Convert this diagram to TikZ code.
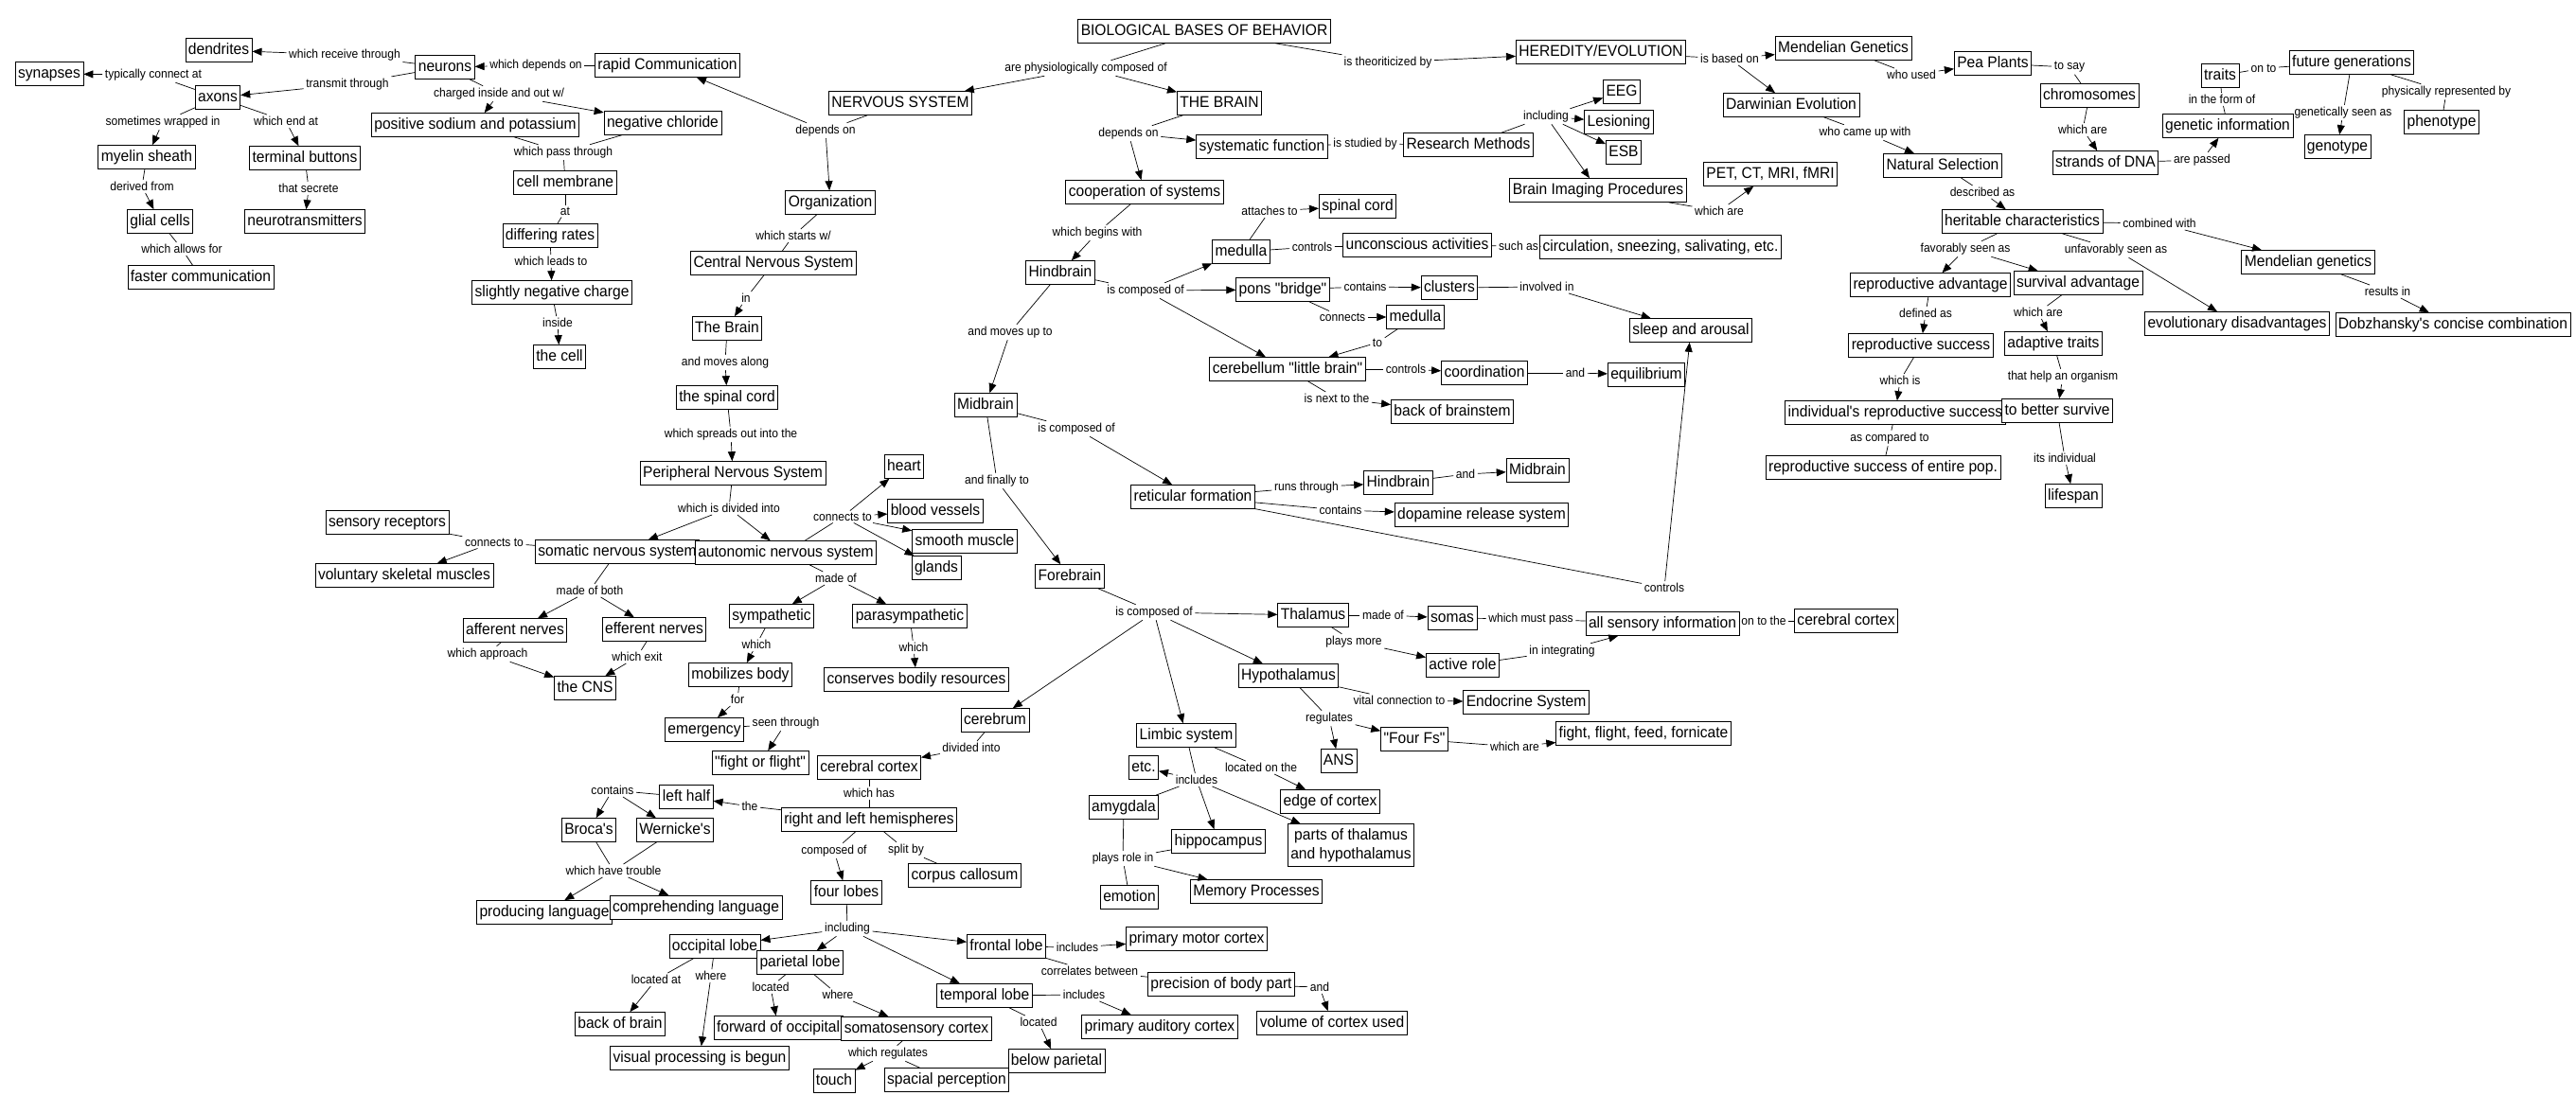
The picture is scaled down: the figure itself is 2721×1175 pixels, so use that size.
\documentclass[tikz,border=0pt]{standalone}
\usepackage{fontspec}
\newfontfamily\mapfont{Liberation Sans}[FakeStretch=0.945]
\newfontfamily\labfont{Liberation Sans}[FakeStretch=0.93]
\usetikzlibrary{arrows.meta}
\tikzset{
 cbase/.style={draw, line width=0.8pt, fill=white, font=\mapfont\fontsize{16.5}{20}\selectfont, inner xsep=3pt, inner ysep=4.5pt},
 cpt/.style={cbase, text height=12.3pt, text depth=3.5pt},
 lbl/.style={font=\labfont\fontsize{13}{15}\selectfont, inner xsep=2.5pt, inner ysep=2pt},
 ln/.style={line width=0.7pt},
 arr/.style={ln, -{Triangle[length=10pt,width=8pt]}},
}
\newcommand{\lnk}[2]{\draw[ln] (#1) -- (#2);}
\newcommand{\arw}[2]{\draw[arr] (#1) -- (#2);}
\begin{document}
\begin{tikzpicture}[x=1pt,y=-1pt]
\useasboundingbox (0,0) rectangle (2721,1175);
\fill[white] (0,0) rectangle (2721,1175);
% ---------------- concepts
\node[cpt] (c_bbb) at (1272,33) {BIOLOGICAL BASES OF BEHAVIOR};
\node[cpt] (c_ns) at (951,109) {NERVOUS SYSTEM};
\node[cpt] (c_tb) at (1288,109) {THE BRAIN};
\node[cpt] (c_her) at (1691,55) {HEREDITY/EVOLUTION};
\node[cpt] (c_rapid) at (705,69) {rapid Communication};
\node[cpt] (c_neur) at (470,71) {neurons};
\node[cpt] (c_dend) at (231,53) {dendrites};
\node[cpt] (c_syn) at (52,78) {synapses};
\node[cpt] (c_axon) at (230,103) {axons};
\node[cpt] (c_pos) at (502,132) {positive sodium and potassium};
\node[cpt] (c_negc) at (700,130) {negative chloride};
\node[cpt] (c_myel) at (155,166) {myelin sheath};
\node[cpt] (c_term) at (322,167) {terminal buttons};
\node[cpt] (c_glia) at (169,234) {glial cells};
\node[cpt] (c_neurot) at (322,234) {neurotransmitters};
\node[cpt] (c_fast) at (212,293) {faster communication};
\node[cpt] (c_memb) at (597,193) {cell membrane};
\node[cpt] (c_diff) at (581,249) {differing rates};
\node[cpt] (c_slneg) at (583,309) {slightly negative charge};
\node[cpt] (c_cell) at (591,377) {the cell};
\node[cpt] (c_org) at (877,214) {Organization};
\node[cpt] (c_cns) at (817,278) {Central Nervous System};
\node[cpt] (c_brain) at (768,347) {The Brain};
\node[cpt] (c_spc) at (768,420) {the spinal cord};
\node[cpt] (c_pns) at (774,500) {Peripheral Nervous System};
\node[cpt] (c_som) at (652,583) {somatic nervous system};
\node[cpt] (c_aut) at (830,584) {autonomic nervous system};
\node[cpt] (c_sens) at (409,552) {sensory receptors};
\node[cpt] (c_vol) at (427,608) {voluntary skeletal muscles};
\node[cpt] (c_aff) at (544,666) {afferent nerves};
\node[cpt] (c_eff) at (691,665) {efferent nerves};
\node[cpt] (c_thecns) at (618,727) {the CNS};
\node[cpt] (c_heart) at (955,493) {heart};
\node[cpt] (c_blood) at (988,540) {blood vessels};
\node[cpt] (c_smooth) at (1019,572) {smooth muscle};
\node[cpt] (c_glands) at (989,600) {glands};
\node[cpt] (c_symp) at (815,651) {sympathetic};
\node[cpt] (c_para) at (961,651) {parasympathetic};
\node[cpt] (c_mob) at (782,713) {mobilizes body};
\node[cpt] (c_cons) at (968,718) {conserves bodily resources};
\node[cpt] (c_emerg) at (744,771) {emergency};
\node[cpt] (c_fof) at (803,806) {"fight or flight"};
\node[cpt] (c_sysf) at (1333,155) {systematic function};
\node[cpt] (c_coop) at (1209,203) {cooperation of systems};
\node[cpt] (c_resm) at (1551,153) {Research Methods};
\node[cpt] (c_eeg) at (1713,97) {EEG};
\node[cpt] (c_les) at (1710,129) {Lesioning};
\node[cpt] (c_esb) at (1715,161) {ESB};
\node[cpt] (c_bip) at (1688,201) {Brain Imaging Procedures};
\node[cpt] (c_pet) at (1870,184) {PET, CT, MRI, fMRI};
\node[cpt] (c_hind) at (1120,288) {Hindbrain};
\node[cpt] (c_med) at (1311,266) {medulla};
\node[cpt] (c_spinal) at (1434,218) {spinal cord};
\node[cpt] (c_unc) at (1497,259) {unconscious activities};
\node[cpt] (c_circ) at (1754,261) {circulation, sneezing, salivating, etc.};
\node[cpt] (c_pons) at (1355,306) {pons "bridge"};
\node[cpt] (c_clus) at (1531,304) {clusters};
\node[cpt] (c_med2) at (1495,335) {medulla};
\node[cpt] (c_sleep) at (1786,349) {sleep and arousal};
\node[cpt] (c_cereb) at (1360,390) {cerebellum "little brain"};
\node[cpt] (c_coord) at (1568,394) {coordination};
\node[cpt] (c_equi) at (1739,396) {equilibrium};
\node[cpt] (c_back) at (1534,435) {back of brainstem};
\node[cpt] (c_mid) at (1041,428) {Midbrain};
\node[cpt] (c_ret) at (1260,525) {reticular formation};
\node[cpt] (c_hind2) at (1477,510) {Hindbrain};
\node[cpt] (c_mid2) at (1624,497) {Midbrain};
\node[cpt] (c_dopa) at (1565,544) {dopamine release system};
\node[cpt] (c_fore) at (1130,609) {Forebrain};
\node[cpt] (c_thal) at (1387,650) {Thalamus};
\node[cpt] (c_somas) at (1534,653) {somas};
\node[cpt] (c_allsens) at (1756,659) {all sensory information};
\node[cpt] (c_cortex2) at (1950,656) {cerebral cortex};
\node[cpt] (c_active) at (1545,703) {active role};
\node[cpt] (c_hypo) at (1361,714) {Hypothalamus};
\node[cpt] (c_endo) at (1612,742) {Endocrine System};
\node[cpt] (c_fourf) at (1494,781) {"Four Fs"};
\node[cpt] (c_ffff) at (1736,775) {fight, flight, feed, fornicate};
\node[cpt] (c_ansb) at (1414,804) {ANS};
\node[cpt] (c_cerebrum) at (1051,761) {cerebrum};
\node[cpt] (c_limbic) at (1253,777) {Limbic system};
\node[cpt] (c_cortex) at (918,811) {cerebral cortex};
\node[cpt] (c_hemi) at (918,866) {right and left hemispheres};
\node[cpt] (c_left) at (725,842) {left half};
\node[cpt] (c_broca) at (622,877) {Broca's};
\node[cpt] (c_wern) at (713,877) {Wernicke's};
\node[cpt] (c_prod) at (575,964) {producing language};
\node[cpt] (c_comp) at (735,959) {comprehending language};
\node[cpt] (c_corpus) at (1019,925) {corpus callosum};
\node[cpt] (c_four) at (894,943) {four lobes};
\node[cpt] (c_occ) at (755,1000) {occipital lobe};
\node[cpt] (c_par) at (845,1017) {parietal lobe};
\node[cpt] (c_front) at (1063,1000) {frontal lobe};
\node[cpt] (c_temp) at (1040,1052) {temporal lobe};
\node[cpt] (c_motor) at (1264,992) {primary motor cortex};
\node[cpt] (c_prec) at (1290,1040) {precision of body part};
\node[cpt] (c_volc) at (1407,1081) {volume of cortex used};
\node[cpt] (c_aud) at (1225,1085) {primary auditory cortex};
\node[cpt] (c_below) at (1116,1121) {below parietal};
\node[cpt] (c_backb) at (655,1082) {back of brain};
\node[cpt] (c_fwd) at (822,1086) {forward of occipital};
\node[cpt] (c_soma) at (968,1087) {somatosensory cortex};
\node[cpt] (c_vis) at (739,1118) {visual processing is begun};
\node[cpt] (c_touch) at (881,1142) {touch};
\node[cpt] (c_spac) at (1000,1141) {spacial perception};
\node[cpt] (c_etc) at (1208,811) {etc.};
\node[cpt] (c_edge) at (1405,847) {edge of cortex};
\node[cbase, align=center] (c_parts) at (1427,893) {parts of thalamus\\and hypothalamus};
\node[cpt] (c_amyg) at (1187,853) {amygdala};
\node[cpt] (c_hippo) at (1287,889) {hippocampus};
\node[cpt] (c_emot) at (1193,948) {emotion};
\node[cpt] (c_mem) at (1327,942) {Memory Processes};
\node[cpt] (c_mendel) at (1947,51) {Mendelian Genetics};
\node[cpt] (c_darwin) at (1892,111) {Darwinian Evolution};
\node[cpt] (c_natsel) at (2052,175) {Natural Selection};
\node[cpt] (c_pea) at (2105,67) {Pea Plants};
\node[cpt] (c_chrom) at (2207,101) {chromosomes};
\node[cpt] (c_dna) at (2224,172) {strands of DNA};
\node[cpt] (c_gen) at (2353,133) {genetic information};
\node[cpt] (c_traits) at (2345,80) {traits};
\node[cpt] (c_future) at (2484,66) {future generations};
\node[cpt] (c_genot) at (2469,155) {genotype};
\node[cpt] (c_phen) at (2579,129) {phenotype};
\node[cpt] (c_herit) at (2136,234) {heritable characteristics};
\node[cpt] (c_repadv) at (2039,301) {reproductive advantage};
\node[cpt] (c_surv) at (2195,299) {survival advantage};
\node[cpt] (c_mendel2) at (2438,277) {Mendelian genetics};
\node[cpt] (c_evol) at (2363,342) {evolutionary disadvantages};
\node[cpt] (c_dob) at (2591,343) {Dobzhansky's concise combination};
\node[cpt] (c_repsucc) at (2029,365) {reproductive success};
\node[cpt] (c_adapt) at (2169,363) {adaptive traits};
\node[cpt] (c_indiv) at (2002,436) {individual's reproductive success};
\node[cpt] (c_better) at (2173,434) {to better survive};
\node[cpt] (c_entire) at (1989,494) {reproductive success of entire pop.};
\node[cpt] (c_life) at (2190,524) {lifespan};
% ---------------- linking phrases
\node[lbl] (l_recv) at (364,58) {which receive through};
\node[lbl] (l_conn) at (162,79) {typically connect at};
\node[lbl] (l_trans) at (367,89) {transmit through};
\node[lbl] (l_dep1) at (566,69) {which depends on};
\node[lbl] (l_charg) at (527,99) {charged inside and out w/};
\node[lbl] (l_wrap) at (172,129) {sometimes wrapped in};
\node[lbl] (l_end) at (302,128) {which end at};
\node[lbl] (l_deriv) at (150,197) {derived from};
\node[lbl] (l_secr) at (326,199) {that secrete};
\node[lbl] (l_allow) at (192,263) {which allows for};
\node[lbl] (l_pass) at (595,161) {which pass through};
\node[lbl] (l_at) at (597,223) {at};
\node[lbl] (l_leads) at (582,276) {which leads to};
\node[lbl] (l_inside) at (589,341) {inside};
\node[lbl] (l_phys) at (1147,72) {are physiologically composed of};
\node[lbl] (l_depns) at (872,138) {depends on};
\node[lbl] (l_starts) at (838,249) {which starts w/};
\node[lbl] (l_in) at (788,315) {in};
\node[lbl] (l_along) at (766,383) {and moves along};
\node[lbl] (l_spreads) at (772,459) {which spreads out into the};
\node[lbl] (l_divided) at (770,537) {which is divided into};
\node[lbl] (l_conn2) at (522,573) {connects to};
\node[lbl] (l_both) at (623,624) {made of both};
\node[lbl] (l_appr) at (515,691) {which approach};
\node[lbl] (l_exit) at (673,694) {which exit};
\node[lbl] (l_conn3) at (890,546) {connects to};
\node[lbl] (l_madeof) at (883,611) {made of};
\node[lbl] (l_which1) at (799,681) {which};
\node[lbl] (l_which2) at (965,684) {which};
\node[lbl] (l_for) at (779,739) {for};
\node[lbl] (l_seen) at (830,764) {seen through};
\node[lbl] (l_deptb) at (1192,141) {depends on};
\node[lbl] (l_begins) at (1159,246) {which begins with};
\node[lbl] (l_studied) at (1442,152) {is studied by};
\node[lbl] (l_incl) at (1633,123) {including};
\node[lbl] (l_whichare1) at (1816,223) {which are};
\node[lbl] (l_compH) at (1210,307) {is composed of};
\node[lbl] (l_attach) at (1341,223) {attaches to};
\node[lbl] (l_ctrl1) at (1386,261) {controls};
\node[lbl] (l_such) at (1604,260) {such as};
\node[lbl] (l_cont1) at (1442,303) {contains};
\node[lbl] (l_connects) at (1418,335) {connects};
\node[lbl] (l_to) at (1455,362) {to};
\node[lbl] (l_invol) at (1634,303) {involved in};
\node[lbl] (l_ctrl2) at (1485,390) {controls};
\node[lbl] (l_and1) at (1664,394) {and};
\node[lbl] (l_next) at (1412,421) {is next to the};
\node[lbl] (l_moves) at (1067,351) {and moves up to};
\node[lbl] (l_compM) at (1137,453) {is composed of};
\node[lbl] (l_final) at (1053,508) {and finally to};
\node[lbl] (l_runs) at (1380,515) {runs through};
\node[lbl] (l_and2) at (1548,501) {and};
\node[lbl] (l_cont2) at (1416,539) {contains};
\node[lbl] (l_ctrl3) at (1758,621) {controls};
\node[lbl] (l_compF) at (1219,647) {is composed of};
\node[lbl] (l_made2) at (1461,650) {made of};
\node[lbl] (l_must) at (1617,654) {which must pass};
\node[lbl] (l_onto) at (1863,656) {on to the};
\node[lbl] (l_plays) at (1430,678) {plays more};
\node[lbl] (l_integ) at (1650,688) {in integrating};
\node[lbl] (l_vital) at (1478,740) {vital connection to};
\node[lbl] (l_regul) at (1404,759) {regulates};
\node[lbl] (l_whichare2) at (1600,789) {which are};
\node[lbl] (l_divinto) at (1026,790) {divided into};
\node[lbl] (l_has) at (918,838) {which has};
\node[lbl] (l_the) at (792,852) {the};
\node[lbl] (l_cont3) at (647,835) {contains};
\node[lbl] (l_trouble) at (648,920) {which have trouble};
\node[lbl] (l_compof) at (881,899) {composed of};
\node[lbl] (l_split) at (957,898) {split by};
\node[lbl] (l_including) at (895,981) {including};
\node[lbl] (l_incl2) at (1138,1001) {includes};
\node[lbl] (l_corr) at (1151,1026) {correlates between};
\node[lbl] (l_and3) at (1394,1043) {and};
\node[lbl] (l_incl3) at (1145,1051) {includes};
\node[lbl] (l_loc1) at (1097,1080) {located};
\node[lbl] (l_locat) at (693,1035) {located at};
\node[lbl] (l_where1) at (751,1031) {where};
\node[lbl] (l_loc2) at (814,1043) {located};
\node[lbl] (l_where2) at (885,1051) {where};
\node[lbl] (l_regs) at (938,1113) {which regulates};
\node[lbl] (l_incl4) at (1264,824) {includes};
\node[lbl] (l_locon) at (1332,811) {located on the};
\node[lbl] (l_plays2) at (1186,907) {plays role in};
\node[lbl] (l_theor) at (1466,66) {is theoriticized by};
\node[lbl] (l_based) at (1827,62) {is based on};
\node[lbl] (l_used) at (2019,79) {who used};
\node[lbl] (l_came) at (1970,140) {who came up with};
\node[lbl] (l_say) at (2186,71) {to say};
\node[lbl] (l_whichare3) at (2200,137) {which are};
\node[lbl] (l_passed) at (2326,169) {are passed};
\node[lbl] (l_form) at (2347,105) {in the form of};
\node[lbl] (l_onto2) at (2391,72) {on to};
\node[lbl] (l_genet) at (2475,119) {genetically seen as};
\node[lbl] (l_physr) at (2584,97) {physically represented by};
\node[lbl] (l_descr) at (2094,203) {described as};
\node[lbl] (l_fav) at (2076,263) {favorably seen as};
\node[lbl] (l_unfav) at (2235,264) {unfavorably seen as};
\node[lbl] (l_comb) at (2281,236) {combined with};
\node[lbl] (l_results) at (2522,308) {results in};
\node[lbl] (l_defined) at (2034,331) {defined as};
\node[lbl] (l_whichare4) at (2153,330) {which are};
\node[lbl] (l_whichis) at (2007,402) {which is};
\node[lbl] (l_help) at (2179,398) {that help an organism};
\node[lbl] (l_compared) at (1996,463) {as compared to};
\node[lbl] (l_indiv) at (2181,484) {its individual};
% ---------------- connectors
\lnk{c_bbb}{l_phys} \arw{l_phys}{c_ns} \arw{l_phys}{c_tb}
\lnk{c_bbb}{l_theor} \arw{l_theor}{c_her}
\lnk{c_her}{l_based} \arw{l_based}{c_mendel} \arw{l_based}{c_darwin}
\lnk{c_mendel}{l_used} \arw{l_used}{c_pea}
\lnk{c_pea}{l_say} \lnk{l_say}{c_chrom}
\lnk{c_chrom}{l_whichare3} \arw{l_whichare3}{c_dna}
\lnk{c_dna}{l_passed} \arw{l_passed}{c_gen}
\lnk{c_gen}{l_form} \lnk{l_form}{c_traits}
\lnk{c_traits}{l_onto2} \lnk{l_onto2}{c_future}
\lnk{c_future}{l_genet} \arw{l_genet}{c_genot}
\lnk{c_future}{l_physr} \lnk{l_physr}{c_phen}
\lnk{c_darwin}{l_came} \arw{l_came}{c_natsel}
\lnk{c_natsel}{l_descr} \arw{l_descr}{c_herit}
\lnk{c_herit}{l_fav} \arw{l_fav}{c_repadv} \arw{l_fav}{c_surv}
\lnk{c_herit}{l_unfav} \arw{l_unfav}{c_evol}
\lnk{c_herit}{l_comb} \arw{l_comb}{c_mendel2}
\lnk{c_mendel2}{l_results} \arw{l_results}{c_dob}
\lnk{c_repadv}{l_defined} \arw{l_defined}{c_repsucc}
\lnk{c_repsucc}{l_whichis} \arw{l_whichis}{c_indiv}
\lnk{c_indiv}{l_compared} \lnk{l_compared}{c_entire}
\lnk{c_surv}{l_whichare4} \arw{l_whichare4}{c_adapt}
\lnk{c_adapt}{l_help} \arw{l_help}{c_better}
\lnk{c_better}{l_indiv} \arw{l_indiv}{c_life}
\lnk{c_ns}{l_depns} \arw{l_depns}{c_rapid} \arw{l_depns}{c_org}
\lnk{c_rapid}{l_dep1} \arw{l_dep1}{c_neur}
\lnk{c_neur}{l_recv} \arw{l_recv}{c_dend}
\lnk{c_neur}{l_trans} \arw{l_trans}{c_axon}
\lnk{c_axon}{l_conn} \arw{l_conn}{c_syn}
\lnk{c_axon}{l_wrap} \arw{l_wrap}{c_myel}
\lnk{c_axon}{l_end} \arw{l_end}{c_term}
\lnk{c_myel}{l_deriv} \arw{l_deriv}{c_glia}
\lnk{c_glia}{l_allow} \lnk{l_allow}{c_fast}
\lnk{c_term}{l_secr} \arw{l_secr}{c_neurot}
\lnk{c_neur}{l_charg} \arw{l_charg}{c_pos} \arw{l_charg}{c_negc}
\lnk{c_pos}{l_pass} \lnk{c_negc}{l_pass} \lnk{l_pass}{c_memb}
\lnk{c_memb}{l_at} \lnk{l_at}{c_diff}
\lnk{c_diff}{l_leads} \arw{l_leads}{c_slneg}
\lnk{c_slneg}{l_inside} \arw{l_inside}{c_cell}
\lnk{c_org}{l_starts} \lnk{l_starts}{c_cns}
\lnk{c_cns}{l_in} \arw{l_in}{c_brain}
\lnk{c_brain}{l_along} \arw{l_along}{c_spc}
\lnk{c_spc}{l_spreads} \arw{l_spreads}{c_pns}
\lnk{c_pns}{l_divided} \arw{l_divided}{c_som} \arw{l_divided}{c_aut}
\lnk{c_som}{l_conn2} \lnk{l_conn2}{c_sens} \arw{l_conn2}{c_vol}
\lnk{c_som}{l_both} \arw{l_both}{c_aff} \arw{l_both}{c_eff}
\lnk{c_aff}{l_appr} \arw{l_appr}{c_thecns}
\lnk{c_eff}{l_exit} \arw{l_exit}{c_thecns}
\lnk{c_aut}{l_conn3} \arw{l_conn3}{c_heart} \arw{l_conn3}{c_blood} \arw{l_conn3}{c_smooth} \arw{l_conn3}{c_glands}
\lnk{c_aut}{l_madeof} \arw{l_madeof}{c_symp} \arw{l_madeof}{c_para}
\lnk{c_symp}{l_which1} \arw{l_which1}{c_mob}
\lnk{c_para}{l_which2} \arw{l_which2}{c_cons}
\lnk{c_mob}{l_for} \arw{l_for}{c_emerg}
\lnk{c_emerg}{l_seen} \arw{l_seen}{c_fof}
\lnk{c_tb}{l_deptb} \arw{l_deptb}{c_sysf} \arw{l_deptb}{c_coop}
\lnk{c_sysf}{l_studied} \lnk{l_studied}{c_resm}
\lnk{c_resm}{l_incl} \arw{l_incl}{c_eeg} \arw{l_incl}{c_les} \arw{l_incl}{c_esb} \arw{l_incl}{c_bip}
\lnk{c_bip}{l_whichare1} \arw{l_whichare1}{c_pet}
\lnk{c_coop}{l_begins} \arw{l_begins}{c_hind}
\lnk{c_hind}{l_compH} \arw{l_compH}{c_med} \arw{l_compH}{c_pons} \arw{l_compH}{c_cereb}
\lnk{c_med}{l_attach} \arw{l_attach}{c_spinal}
\lnk{c_med}{l_ctrl1} \lnk{l_ctrl1}{c_unc}
\lnk{c_unc}{l_such} \lnk{l_such}{c_circ}
\lnk{c_pons}{l_cont1} \arw{l_cont1}{c_clus}
\lnk{c_clus}{l_invol} \arw{l_invol}{c_sleep}
\lnk{c_pons}{l_connects} \arw{l_connects}{c_med2}
\lnk{c_med2}{l_to} \arw{l_to}{c_cereb}
\lnk{c_cereb}{l_ctrl2} \arw{l_ctrl2}{c_coord}
\lnk{c_coord}{l_and1} \arw{l_and1}{c_equi}
\lnk{c_cereb}{l_next} \arw{l_next}{c_back}
\lnk{c_hind}{l_moves} \arw{l_moves}{c_mid}
\lnk{c_mid}{l_compM} \arw{l_compM}{c_ret}
\lnk{c_mid}{l_final} \arw{l_final}{c_fore}
\lnk{c_ret}{l_runs} \arw{l_runs}{c_hind2}
\lnk{c_hind2}{l_and2} \arw{l_and2}{c_mid2}
\lnk{c_ret}{l_cont2} \arw{l_cont2}{c_dopa}
\lnk{c_ret}{l_ctrl3} \arw{l_ctrl3}{c_sleep}
\lnk{c_fore}{l_compF} \arw{l_compF}{c_thal} \arw{l_compF}{c_hypo} \arw{l_compF}{c_cerebrum} \arw{l_compF}{c_limbic}
\lnk{c_thal}{l_made2} \arw{l_made2}{c_somas}
\lnk{c_somas}{l_must} \lnk{l_must}{c_allsens}
\lnk{c_allsens}{l_onto} \lnk{l_onto}{c_cortex2}
\lnk{c_thal}{l_plays} \arw{l_plays}{c_active}
\lnk{c_active}{l_integ} \arw{l_integ}{c_allsens}
\lnk{c_hypo}{l_vital} \arw{l_vital}{c_endo}
\lnk{c_hypo}{l_regul} \arw{l_regul}{c_fourf} \arw{l_regul}{c_ansb}
\lnk{c_fourf}{l_whichare2} \arw{l_whichare2}{c_ffff}
\lnk{c_cerebrum}{l_divinto} \arw{l_divinto}{c_cortex}
\lnk{c_cortex}{l_has} \lnk{l_has}{c_hemi}
\lnk{c_hemi}{l_the} \arw{l_the}{c_left}
\lnk{c_left}{l_cont3} \arw{l_cont3}{c_broca} \arw{l_cont3}{c_wern}
\lnk{c_broca}{l_trouble} \lnk{c_wern}{l_trouble} \arw{l_trouble}{c_prod} \arw{l_trouble}{c_comp}
\lnk{c_hemi}{l_compof} \arw{l_compof}{c_four}
\lnk{c_hemi}{l_split} \lnk{l_split}{c_corpus}
\lnk{c_four}{l_including} \arw{l_including}{c_occ} \arw{l_including}{c_par} \arw{l_including}{c_front} \arw{l_including}{c_temp}
\lnk{c_front}{l_incl2} \arw{l_incl2}{c_motor}
\lnk{c_front}{l_corr} \lnk{l_corr}{c_prec}
\lnk{c_prec}{l_and3} \arw{l_and3}{c_volc}
\lnk{c_temp}{l_incl3} \arw{l_incl3}{c_aud}
\lnk{c_temp}{l_loc1} \arw{l_loc1}{c_below}
\lnk{c_occ}{l_locat} \arw{l_locat}{c_backb}
\lnk{c_occ}{l_where1} \arw{l_where1}{c_vis}
\lnk{c_par}{l_loc2} \arw{l_loc2}{c_fwd}
\lnk{c_par}{l_where2} \arw{l_where2}{c_soma}
\lnk{c_soma}{l_regs} \arw{l_regs}{c_touch} \lnk{l_regs}{c_spac}
\lnk{c_limbic}{l_incl4} \arw{l_incl4}{c_etc} \lnk{l_incl4}{c_amyg} \arw{l_incl4}{c_hippo} \arw{l_incl4}{c_parts}
\lnk{c_limbic}{l_locon} \arw{l_locon}{c_edge}
\lnk{c_amyg}{l_plays2} \lnk{c_hippo}{l_plays2} \lnk{l_plays2}{c_emot} \arw{l_plays2}{c_mem}
\end{tikzpicture}
\end{document}
